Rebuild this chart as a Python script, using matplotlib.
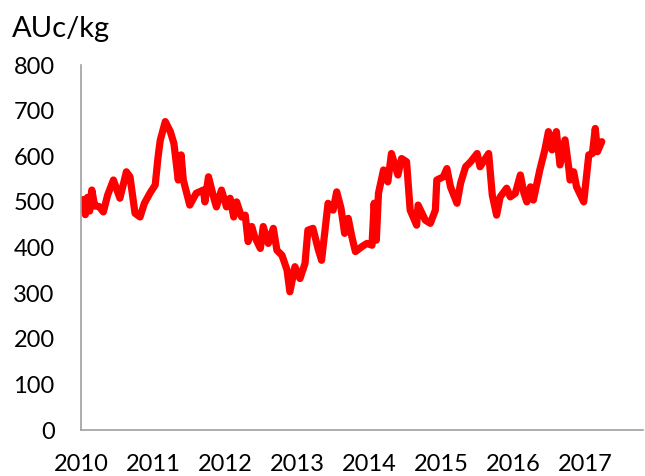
import matplotlib
matplotlib.use("Agg")
import matplotlib.pyplot as plt

# approximate weekly price path (decimal year, AUc/kg)
years = [2010.00, 2010.03, 2010.06, 2010.09, 2010.12, 2010.15, 2010.19, 2010.25, 2010.31,
         2010.37, 2010.45, 2010.54, 2010.63, 2010.68, 2010.75, 2010.82, 2010.88, 2010.96,
         2011.03, 2011.07, 2011.10, 2011.17, 2011.24, 2011.29, 2011.35, 2011.39, 2011.42,
         2011.51, 2011.60, 2011.70, 2011.72, 2011.77, 2011.84, 2011.88, 2011.95, 2012.02,
         2012.07, 2012.12, 2012.16, 2012.23, 2012.28, 2012.32, 2012.37, 2012.41, 2012.49,
         2012.53, 2012.60, 2012.67, 2012.72, 2012.79, 2012.86, 2012.90, 2012.97, 2013.04,
         2013.11, 2013.15, 2013.22, 2013.29, 2013.34, 2013.43, 2013.50, 2013.55, 2013.61,
         2013.66, 2013.71, 2013.76, 2013.81, 2013.90, 2013.97, 2014.04, 2014.07, 2014.10,
         2014.13, 2014.20, 2014.26, 2014.31, 2014.40, 2014.45, 2014.52, 2014.57, 2014.66,
         2014.68, 2014.78, 2014.85, 2014.92, 2014.94, 2015.03, 2015.08, 2015.13, 2015.22,
         2015.27, 2015.34, 2015.41, 2015.50, 2015.54, 2015.66, 2015.71, 2015.77, 2015.82,
         2015.91, 2015.96, 2016.03, 2016.10, 2016.15, 2016.19, 2016.24, 2016.28, 2016.37,
         2016.44, 2016.49, 2016.54, 2016.60, 2016.65, 2016.72, 2016.77, 2016.79, 2016.84,
         2016.88, 2016.98, 2017.05, 2017.10, 2017.14, 2017.17, 2017.23]
price = [487, 505, 472, 510, 480, 526, 491, 490, 478,
         515, 548, 508, 566, 555, 475, 467, 497, 520,
         537, 599, 635, 676, 654, 628, 548, 603, 548,
         493, 519, 526, 500, 555, 511, 489, 526, 489,
         508, 467, 500, 467, 471, 413, 446, 424, 398,
         446, 409, 442, 394, 383, 351, 303, 358, 332,
         365, 438, 442, 398, 372, 497, 482, 522, 486,
         431, 464, 424, 391, 402, 409, 405, 497, 416,
         519, 570, 544, 606, 559, 595, 588, 482, 449,
         493, 460, 453, 482, 548, 555, 573, 533, 497,
         541, 577, 588, 606, 577, 606, 515, 471, 511,
         530, 511, 519, 559, 519, 500, 533, 504, 570,
         614, 654, 614, 654, 581, 636, 577, 548, 566,
         533, 500, 603, 606, 661, 610, 632]

year_ticks = [2010, 2011, 2012, 2013, 2014, 2015, 2016, 2017]
value_ticks = [0, 100, 200, 300, 400, 500, 600, 700, 800]

plt.rcParams["font.family"] = ["Lato", "DejaVu Sans"]

fig = plt.figure(figsize=(6.45, 4.76), dpi=100)
ax = fig.add_axes([0.1256, 0.0966, 0.871, 0.7668])
ax.plot(years, price, color="#ff0000", linewidth=5.2, solid_joinstyle="round",
        solid_capstyle="round")

ax.set_xlim(2010, 2017.8)
ax.set_ylim(0, 800)
ax.set_xticks(year_ticks)
ax.set_xticklabels([str(y) for y in year_ticks])
ax.set_yticks(value_ticks)
ax.tick_params(length=0, labelsize=17, colors="black")
ax.tick_params(axis="y", pad=19)
ax.tick_params(axis="x", pad=17)
for side in ("top", "right"):
    ax.spines[side].set_visible(False)
for side in ("left", "bottom"):
    ax.spines[side].set_color("#a0a0a0")
    ax.spines[side].set_linewidth(1.2)

fig.text(12 / 645, 1 - 29 / 476, "AUc/kg", fontsize=21, va="center", ha="left")

fig.savefig("out.png", dpi=100)
